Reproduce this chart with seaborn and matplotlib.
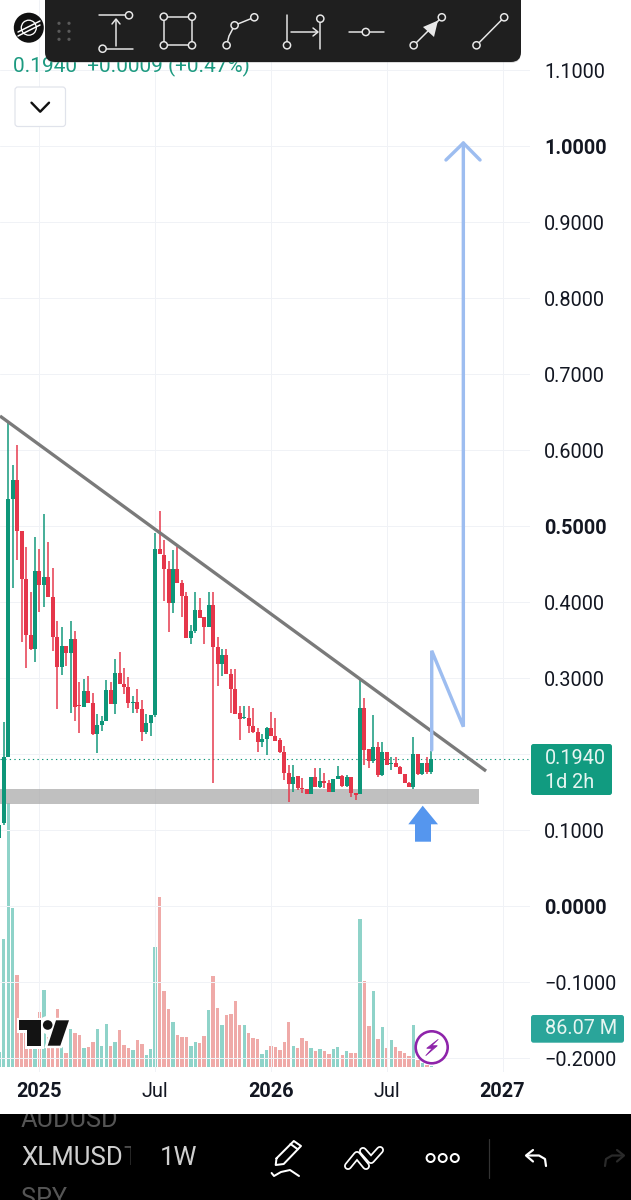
import pandas as pd
import numpy as np
import matplotlib.pyplot as plt
import seaborn as sns
from matplotlib.patches import FancyBboxPatch, Circle, Polygon

# XLMUSD weekly candles (one value per week)
opens = [0.0895, 0.1087, 0.1965, 0.5351, 0.5605, 0.4934, 0.4302, 0.3565, 0.3377, 0.4408,
         0.4223, 0.4324, 0.4061, 0.3535, 0.3140, 0.3421, 0.3324, 0.3508, 0.2644, 0.2622,
         0.2833, 0.2666, 0.2258, 0.2381, 0.2438, 0.2842, 0.2653, 0.3061, 0.2921, 0.2877,
         0.2675, 0.2684, 0.2587, 0.2285, 0.2403, 0.2508, 0.4701, 0.4618, 0.4438, 0.3991,
         0.4438, 0.4245, 0.4079, 0.3526, 0.3618, 0.3894, 0.3798, 0.3666, 0.3960, 0.3412,
         0.3184, 0.3307, 0.3053, 0.2851, 0.2535, 0.2474, 0.2474, 0.2368, 0.2289, 0.2162,
         0.2202, 0.2338, 0.2237, 0.2184, 0.2031, 0.1746, 0.1605, 0.1711, 0.1548, 0.1535,
         0.1478, 0.1693, 0.1561, 0.1640, 0.1623, 0.1504, 0.1667, 0.1711, 0.1579, 0.1702,
         0.1491, 0.1478, 0.2601, 0.2061, 0.1912, 0.2088, 0.1724, 0.2031, 0.1868, 0.1877,
         0.1825, 0.1737, 0.1623, 0.1561, 0.1996, 0.1737, 0.1877, 0.1763]
highs = [0.1066, 0.2416, 0.6351, 0.5802, 0.6066, 0.4934, 0.4719, 0.4136, 0.4859, 0.4693,
         0.5158, 0.4785, 0.4443, 0.3750, 0.3666, 0.3421, 0.3754, 0.3618, 0.2951, 0.2982,
         0.3026, 0.2798, 0.2526, 0.2500, 0.2973, 0.2951, 0.3245, 0.3346, 0.3127, 0.3008,
         0.2763, 0.2851, 0.2710, 0.2526, 0.2508, 0.4903, 0.5201, 0.4815, 0.4544, 0.4684,
         0.4728, 0.4289, 0.4136, 0.3697, 0.4136, 0.4048, 0.3798, 0.4136, 0.4136, 0.3544,
         0.3377, 0.3377, 0.3114, 0.3114, 0.2632, 0.2632, 0.2632, 0.2601, 0.2338, 0.2263,
         0.2351, 0.2557, 0.2469, 0.2206, 0.2105, 0.1855, 0.1855, 0.1711, 0.1680, 0.1535,
         0.1702, 0.1820, 0.1811, 0.1746, 0.1658, 0.1667, 0.1842, 0.1724, 0.1724, 0.1702,
         0.1491, 0.2982, 0.2732, 0.2061, 0.2513, 0.2162, 0.2162, 0.2031, 0.1956, 0.1965,
         0.1842, 0.1737, 0.1636, 0.2228, 0.1996, 0.1877, 0.1956, 0.2044]
lows = [0.0895, 0.1066, 0.1965, 0.4180, 0.4552, 0.3478, 0.3127, 0.3368, 0.3215, 0.3872,
        0.3930, 0.4061, 0.3359, 0.2592, 0.3039, 0.3162, 0.2535, 0.2434, 0.2280, 0.2622,
        0.2666, 0.2250, 0.2008, 0.2307, 0.2438, 0.2653, 0.2526, 0.2921, 0.2785, 0.2601,
        0.2535, 0.2535, 0.2171, 0.2258, 0.2237, 0.2491, 0.4631, 0.4017, 0.3609, 0.3851,
        0.4245, 0.3807, 0.3526, 0.3447, 0.3596, 0.3785, 0.3447, 0.3666, 0.1614, 0.2899,
        0.3026, 0.3053, 0.2544, 0.2526, 0.2184, 0.2465, 0.2272, 0.2272, 0.2031, 0.2088,
        0.1987, 0.2237, 0.2175, 0.2009, 0.1658, 0.1373, 0.1504, 0.1526, 0.1482, 0.1469,
        0.1474, 0.1561, 0.1548, 0.1548, 0.1504, 0.1504, 0.1667, 0.1570, 0.1570, 0.1439,
        0.1395, 0.1469, 0.1855, 0.1811, 0.1877, 0.1702, 0.1711, 0.1855, 0.1789, 0.1825,
        0.1737, 0.1614, 0.1561, 0.1535, 0.1724, 0.1724, 0.1737, 0.1737]
closes = [0.1066, 0.1965, 0.5351, 0.5605, 0.4934, 0.4302, 0.3565, 0.3377, 0.4408, 0.4223,
          0.4324, 0.4061, 0.3535, 0.3140, 0.3421, 0.3324, 0.3508, 0.2622, 0.2631, 0.2833,
          0.2666, 0.2258, 0.2381, 0.2438, 0.2842, 0.2653, 0.3061, 0.2921, 0.2877, 0.2675,
          0.2684, 0.2587, 0.2285, 0.2403, 0.2508, 0.4701, 0.4631, 0.4438, 0.3991, 0.4438,
          0.4245, 0.4079, 0.3526, 0.3618, 0.3894, 0.3785, 0.3666, 0.3960, 0.3412, 0.3180,
          0.3307, 0.3053, 0.2851, 0.2526, 0.2465, 0.2482, 0.2368, 0.2289, 0.2162, 0.2202,
          0.2338, 0.2237, 0.2175, 0.2031, 0.1746, 0.1605, 0.1702, 0.1548, 0.1535, 0.1478,
          0.1693, 0.1561, 0.1640, 0.1623, 0.1504, 0.1667, 0.1711, 0.1579, 0.1702, 0.1491,
          0.1461, 0.2601, 0.2053, 0.1912, 0.2088, 0.1724, 0.2031, 0.1855, 0.1877, 0.1825,
          0.1737, 0.1614, 0.1561, 0.1996, 0.1737, 0.1877, 0.1763, 0.1940]
volumes = [45, 383, 792, 475, 275, 100, 100, 75, 60, 163, 230, 90, 90, 173, 60, 40, 112, 100, 94, 57,
           60, 75, 113, 63, 129, 63, 73, 110, 65, 57, 49, 79, 69, 35, 54, 359, 510, 227, 172, 134,
           96, 90, 88, 63, 73, 70, 92, 170, 273, 176, 125, 155, 158, 196, 125, 124, 100, 85, 82, 38,
           50, 62, 60, 51, 75, 133, 61, 57, 86, 77, 56, 47, 53, 48, 39, 54, 59, 35, 46, 42,
           42, 442, 256, 121, 226, 83, 120, 57, 80, 59, 47, 42, 33, 125, 20, 10, 5, 3]

# Axis ticks
x_tick_pos = [9, 35, 61, 87, 113]
x_tick_labels = ['2025', 'Jul', '2026', 'Jul', '2027']
y_tick_pos = [-0.2, -0.1, 0.0, 0.1, 0.2, 0.3, 0.4, 0.5, 0.6, 0.7, 0.8, 0.9, 1.0, 1.1]
y_tick_labels = ['\u22120.2000', '\u22120.1000', '0.0000', '0.1000', '', '0.3000', '0.4000',
                 '0.5000', '0.6000', '0.7000', '0.8000', '0.9000', '1.0000', '1.1000']
bold_y_labels = ['0.0000', '0.5000', '1.0000']
bold_x_labels = ['2025', '2026', '2027']

# Drawings made by the author of the chart
trend_week = [0.15, 109.3]
trend_price = [0.6447, 0.1776]
path_week = [97.1, 97.1, 104.2, 104.2]
path_price = [0.2053, 0.3359, 0.2359, 1.0039]
head_week = [100.3, 104.2, 107.95]
head_price = [0.9816, 1.0039, 0.9816]
zone_week = [0.15, 107.7]
zone_low = 0.134
zone_high = 0.154
last_price = 0.1940

UP = '#0e9679'
DOWN = '#e5364a'
UP_VOL = '#8fd3c9'
DOWN_VOL = '#efaaa8'
BLUE_LINE = '#9dbdf0'
PX = 0.72  # un pixel en puntos, a dpi 100


def draw_candles(ax, weeks):
    # Mechas y cuerpos como segmentos verticales, una unidad por semana
    wicks = pd.DataFrame({'week': weeks + weeks, 'price': highs + lows,
                          'dir': [c >= o for o, c in zip(opens, closes)] * 2})
    bodies = pd.DataFrame({'week': weeks + weeks, 'price': opens + closes,
                           'dir': [c >= o for o, c in zip(opens, closes)] * 2})
    pal = {True: UP, False: DOWN}
    sns.lineplot(data=wicks, x='week', y='price', hue='dir', units='week', estimator=None,
                 palette=pal, linewidth=1.5 * PX, legend=False, ax=ax, zorder=3,
                 solid_capstyle='butt', sort=False)
    sns.lineplot(data=bodies, x='week', y='price', hue='dir', units='week', estimator=None,
                 palette=pal, linewidth=4.0 * PX, legend=False, ax=ax, zorder=4,
                 solid_capstyle='butt', sort=False)


def icon_line(ui, pts, color='#e8e8e8', lw=1.5, z=22):
    xs, ys = zip(*pts)
    ui.plot(xs, ys, color=color, lw=lw * PX, solid_capstyle='round',
            solid_joinstyle='round', zorder=z)


def icon_dot(ui, x, y, r=3.6):
    ui.add_patch(Circle((x, y), r, facecolor='#1f1f1f', edgecolor='#e8e8e8', lw=1.5 * PX, zorder=23))


def draw_toolbar(ui):
    ui.add_patch(FancyBboxPatch((45, -12), 476, 75, boxstyle='round,pad=0,rounding_size=10',
                                facecolor='#888888', edgecolor='none', alpha=0.3, zorder=19))
    ui.add_patch(FancyBboxPatch((45, -12), 476, 74, boxstyle='round,pad=0,rounding_size=10',
                                facecolor='#1f1f1f', edgecolor='none', zorder=20))
    for gx in [59, 69]:
        for gy in [23.3, 31.3, 39.3]:
            ui.add_patch(Circle((gx, gy), 1.6, facecolor='#5a5a5a', edgecolor='none', zorder=21))

    # medida vertical
    icon_line(ui, [(98.6, 15.3), (126, 15.3)])
    icon_line(ui, [(106, 48.7), (133, 48.7)])
    icon_line(ui, [(116, 46), (116, 20)])
    icon_line(ui, [(112, 24), (116, 19), (120, 24)])
    icon_dot(ui, 129, 15.3)
    icon_dot(ui, 102.6, 48.7)
    # rectangulo
    icon_line(ui, [(163.8, 16.7), (192, 16.7), (192, 45.3), (163.8, 45.3), (163.8, 16.7)])
    for cx, cy in [(163.8, 16.7), (192, 16.7), (163.8, 45.3), (192, 45.3)]:
        icon_dot(ui, cx, cy)
    # polilinea
    icon_line(ui, [(226.6, 45.3), (229, 36), (234.6, 25.3), (254.3, 17.3)])
    for cx, cy in [(226.6, 45.3), (234.6, 25.3), (254.3, 17.3)]:
        icon_dot(ui, cx, cy)
    # medida horizontal
    icon_line(ui, [(287, 15), (287, 42.3)])
    icon_line(ui, [(320.3, 22), (320.3, 49)])
    icon_line(ui, [(290.5, 32), (317, 32)])
    icon_line(ui, [(313, 28), (318, 32), (313, 36)])
    icon_dot(ui, 287, 45.3)
    icon_dot(ui, 320.3, 18.7)
    # linea horizontal
    icon_line(ui, [(349, 32), (383.5, 32)])
    icon_dot(ui, 365.8, 32)
    # flecha
    icon_line(ui, [(413.7, 45.3), (441.8, 17.3)])
    ui.add_patch(Polygon([(438, 20.5), (434, 37), (423, 27)], facecolor='#e8e8e8', edgecolor='none', zorder=22))
    icon_dot(ui, 413.7, 45.3)
    icon_dot(ui, 441.8, 17.3)
    # linea
    icon_line(ui, [(476.5, 45.3), (504.2, 17.3)])
    icon_dot(ui, 476.5, 45.3)
    icon_dot(ui, 504.2, 17.3)


def draw_header(ui):
    # Logo de Stellar
    ui.add_patch(Circle((28.8, 27.7), 15, facecolor='#111111', edgecolor='none', zorder=10))
    ui.add_patch(Circle((28.8, 27.7), 7.5, facecolor='none', edgecolor='white', lw=1.3 * PX, zorder=11))
    ui.plot([18, 40], [32, 21], color='white', lw=1.5 * PX, zorder=12)
    ui.plot([18, 40], [36, 25], color='white', lw=1.5 * PX, zorder=12)

    ui.text(13, 66.5, '0.1940  +0.0009 (+0.47%)', color='#1c9a80', fontsize=15,
            ha='left', va='center', zorder=10)

    ui.add_patch(FancyBboxPatch((15, 87), 50.5, 39.5, boxstyle='round,pad=0,rounding_size=3',
                                facecolor='white', edgecolor='#e0e3eb', lw=1.2 * PX, zorder=10))
    ui.plot([31.5, 40.2, 49], [102.7, 111.7, 102.7], color='#111111', lw=2.4 * PX, zorder=11,
            solid_capstyle='round', solid_joinstyle='round')


def draw_badges(ui):
    ui.add_patch(FancyBboxPatch((531, 744), 81, 51, boxstyle='round,pad=0,rounding_size=2.5',
                                facecolor='#119b80', edgecolor='none', zorder=10))
    ui.text(545, 759, '0.1940', color='#e6f5f1', fontsize=14.3, ha='left', va='center', zorder=11)
    ui.text(545, 782, '1d 2h', color='#e6f5f1', fontsize=14.3, ha='left', va='center', zorder=11)
    ui.add_patch(FancyBboxPatch((531, 1015), 93, 27.7, boxstyle='round,pad=0,rounding_size=2.5',
                                facecolor='#2aa59a', edgecolor='none', zorder=10))
    ui.text(545, 1029, '86.07 M', color='#e6f5f1', fontsize=14.3, ha='left', va='center', zorder=11)


def draw_marks(ui):
    # Flecha azul bajo la zona
    ui.add_patch(Polygon([(422.7, 805.7), (438, 824.3), (431, 824.3), (431, 841.7),
                          (415, 841.7), (415, 824.3), (408.3, 824.3)],
                         facecolor='#5596ee', edgecolor='none', zorder=8))

    # Logo TV con halo blanco
    t_shape = [(19.3, 1020.3), (40.7, 1020.3), (40.7, 1045.7), (27, 1045.7), (27, 1030), (19.3, 1030)]
    slash = [(56, 1020.3), (69, 1020.3), (60.3, 1045.7), (47.7, 1045.7)]
    for pts in (t_shape, slash):
        ui.add_patch(Polygon(pts, facecolor='white', edgecolor='white', lw=5 * PX, zorder=8))
    ui.add_patch(Circle((47.7, 1025), 6.5, facecolor='white', edgecolor='white', lw=5 * PX, zorder=8))
    for pts in (t_shape, slash):
        ui.add_patch(Polygon(pts, facecolor='#131313', edgecolor='none', zorder=9))
    ui.add_patch(Circle((47.7, 1025), 4.8, facecolor='#131313', edgecolor='none', zorder=9))

    # Rayo morado
    ui.add_patch(Circle((431.7, 1047.3), 16, facecolor='white', edgecolor='#8e24aa', lw=2.6 * PX, zorder=8))
    ui.add_patch(Polygon([(438.3, 1039.3), (426.7, 1048.3), (432.3, 1048.3), (425.7, 1055.7),
                          (437.3, 1045.7), (431.7, 1045.7)], facecolor='#8e24aa', edgecolor='#8e24aa',
                         lw=0.8 * PX, zorder=9))


def draw_bottom_bar(ui):
    ui.add_patch(plt.Rectangle((0, 1114), 631, 86, facecolor='black', edgecolor='none', zorder=10))
    bar_clip = plt.Rectangle((0, 1114), 631, 86, transform=ui.transData)
    t1 = ui.text(21, 1120, 'AUDUSD', color='#555555', fontsize=18.2, ha='left', va='center', zorder=11)
    t2 = ui.text(21, 1199, 'SPY', color='#555555', fontsize=18.2, ha='left', va='center', zorder=11)
    for t in (t1, t2):
        t.set_clip_on(True)
        t.set_clip_path(bar_clip)
    ui.text(21, 1158, 'XLMUSD', color='#cfcfcf', fontsize=18.6, ha='left', va='center', zorder=11)
    t3 = ui.text(123, 1158, 'T', color='#4a4a4a', fontsize=18.6, ha='left', va='center', zorder=11)
    t3.set_clip_on(True)
    t3.set_clip_path(plt.Rectangle((0, 1114), 131, 86, transform=ui.transData))
    ui.text(160, 1158, '1W', color='#cfcfcf', fontsize=18.6, ha='left', va='center', zorder=11)

    # Lapiz
    icon_line(ui, [(276.5, 1158.3), (293.8, 1141), (301, 1146), (283.7, 1164),
                   (275.7, 1165), (276.5, 1158.3)], color='white', lw=2)
    icon_line(ui, [(290.5, 1144), (297.8, 1149.3)], color='white', lw=2)
    icon_line(ui, [(271.6, 1173), (274, 1176), (281, 1172), (290, 1170), (299, 1176)], color='white', lw=2)
    # Zigzag
    for seg in ([(348, 1166), (357, 1155), (366, 1166)], [(363, 1151), (371, 1160), (380, 1150)]):
        icon_line(ui, seg, color='white', lw=8)
        icon_line(ui, seg, color='black', lw=4.5, z=23)
    # Tres puntos
    for cx in [430.6, 442.7, 454.8]:
        ui.add_patch(Circle((cx, 1158), 4, facecolor='black', edgecolor='white', lw=2 * PX, zorder=22))
    icon_line(ui, [(489, 1139), (489, 1178)], color='#333333', lw=1.2)
    # Deshacer / rehacer
    icon_line(ui, [(546, 1166), (545, 1159), (539, 1155.5), (527, 1155.5)], color='white', lw=2.2)
    icon_line(ui, [(533, 1150), (526, 1155.5), (533, 1161.5)], color='white', lw=2.2)
    icon_line(ui, [(605, 1166), (606, 1159), (612, 1155.5), (623, 1155.5)], color='#2a2a2a', lw=2.2)
    icon_line(ui, [(617, 1150), (624, 1155.5), (617, 1161.5)], color='#2a2a2a', lw=2.2)


def main():
    sns.set_theme(style='whitegrid', rc={'grid.color': '#f0f2f6', 'grid.linewidth': 1.0 * PX,
                                         'axes.edgecolor': 'white'})
    plt.rcParams['font.family'] = ['Roboto', 'DejaVu Sans']

    fig = plt.figure(figsize=(6.31, 12), dpi=100)
    rect = [0, 128 / 1200, 530 / 631, 1072 / 1200]
    ax_vol = fig.add_axes(rect, zorder=1)
    ax = fig.add_axes(rect, zorder=2)
    ax.patch.set_alpha(0)

    weeks = list(range(len(opens)))

    # Volumen abajo, en su propia escala
    vol_df = pd.DataFrame({'week': weeks, 'vol': volumes,
                           'dir': [c >= o for o, c in zip(opens, closes)]})
    sns.barplot(data=vol_df, x='week', y='vol', hue='dir', native_scale=True, dodge=False,
                palette={True: UP_VOL, False: DOWN_VOL}, width=0.76, saturation=1,
                errorbar=None, legend=False, ax=ax_vol, zorder=2, linewidth=0, edgecolor='none')
    ax_vol.set_xlim(0.15, 119.17)
    ax_vol.set_ylim(-16, 3200)
    ax_vol.axis('off')

    # Zona de soporte
    ax.fill_between(zone_week, zone_low, zone_high, color='#a8a8a8', alpha=0.72, lw=0, zorder=1)

    draw_candles(ax, weeks)

    # Precio actual
    sns.lineplot(x=[0.15, 119.17], y=[last_price, last_price], color=UP, linewidth=1.1 * PX,
                 linestyle=(0, (1.2, 3)), ax=ax, zorder=2)

    # Directriz y trayectoria proyectada
    sns.lineplot(x=trend_week, y=trend_price, color='#7a7a7a', linewidth=3.3 * PX, ax=ax, zorder=6,
                 solid_capstyle='butt')
    sns.lineplot(x=path_week, y=path_price, color=BLUE_LINE, linewidth=3.4 * PX, ax=ax, zorder=7,
                 sort=False, estimator=None, solid_joinstyle='miter')
    sns.lineplot(x=head_week, y=head_price, color=BLUE_LINE, linewidth=3.4 * PX, ax=ax, zorder=7,
                 sort=False, estimator=None)

    ax.set_xlim(0.15, 119.17)
    ax.set_ylim(-166 / 760, 906 / 760)
    ax.set_xticks(x_tick_pos)
    ax.set_xticklabels(x_tick_labels)
    ax.set_yticks(y_tick_pos)
    ax.set_yticklabels(y_tick_labels)
    ax.set_xlabel('')
    ax.set_ylabel('')
    ax.yaxis.tick_right()
    ax.tick_params(axis='y', length=0, pad=10.0, labelsize=14.3, labelcolor='#131722')
    ax.tick_params(axis='x', length=0, pad=7.5, labelsize=14.3, labelcolor='#131722')
    for lab in ax.get_yticklabels():
        if lab.get_text() in bold_y_labels:
            lab.set_fontweight('bold')
    for lab in ax.get_xticklabels():
        if lab.get_text() in bold_x_labels:
            lab.set_fontweight('bold')
    ax.grid(True)
    sns.despine(ax=ax, left=True, bottom=True, right=True, top=True)

    # Capa de la interfaz, en pixeles de la captura
    ui = fig.add_axes([0, 0, 1, 1], zorder=5)
    ui.set_xlim(0, 631)
    ui.set_ylim(1200, 0)
    ui.axis('off')
    ui.patch.set_alpha(0)

    draw_header(ui)
    draw_toolbar(ui)
    draw_badges(ui)
    draw_marks(ui)
    draw_bottom_bar(ui)

    fig.savefig('out.png', dpi=100)
    plt.close(fig)


if __name__ == "__main__":
    main()
